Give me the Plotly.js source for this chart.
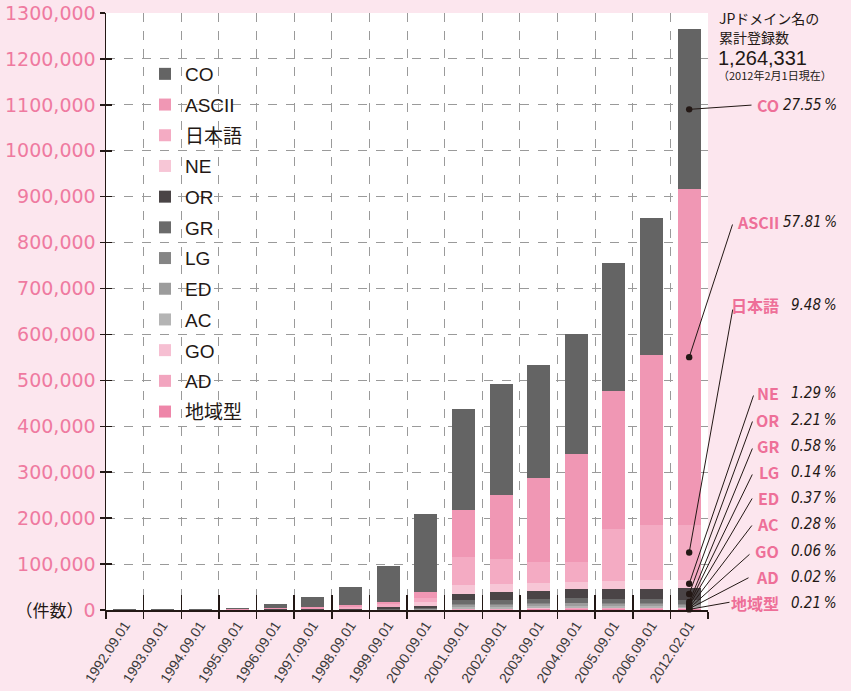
<!DOCTYPE html>
<html><head><meta charset="utf-8">
<script src="https://cdn.plot.ly/plotly-3.0.1.min.js"></script>
<style>html,body{margin:0;padding:0;background:#fce6ee;}</style>
</head><body>
<div id="chart" style="width:851px;height:691px;"></div>
<script>
const years = ['1992.09.01','1993.09.01','1994.09.01','1995.09.01','1996.09.01','1997.09.01','1998.09.01','1999.09.01','2000.09.01','2001.09.01','2002.09.01','2003.09.01','2004.09.01','2005.09.01','2006.09.01','2012.02.01'];

const CO     = [1200,1500,2000,3200,8500,23500,39500,78000,170300,219900,241600,246000,262000,278800,298400,348323];
const ASCII  = [0,0,0,800,3300,4300,5000,6000,13000,102400,139400,183000,235200,300500,370300,730910];
const JAPANESE = [0,0,0,0,0,0,4300,6000,8700,61000,54400,45700,43500,113200,119700,119858];
const NE     = [0,0,0,0,0,0,0,0,8700,19600,17400,17400,15300,17500,19600,16310];
const OR     = [200,300,400,300,700,1000,1300,4000,4300,13000,17400,17400,19700,21700,21700,27942];
const GR     = [0,0,0,0,0,0,0,1000,1500,8000,8000,8500,9700,8000,8000,7333];
const LG     = [0,0,0,0,0,0,0,0,500,2000,2000,2000,2000,2000,2000,1770];
const ED     = [0,0,0,0,0,0,0,0,1000,4500,4500,5000,5000,5000,5000,4678];
const AC     = [200,300,400,200,500,400,400,1000,1000,4500,4500,5000,5000,4500,4500,3540];
const GO     = [0,0,0,0,0,0,0,0,0,1500,1500,1200,1000,1000,1000,759];
const AD     = [0,0,0,0,0,0,0,0,0,300,300,300,300,300,300,253];
const CHIIKI = [0,0,0,0,0,0,0,0,0,1000,1000,2000,3000,3200,3200,2655];

const yTicks = [0,100000,200000,300000,400000,500000,600000,700000,800000,900000,1000000,1100000,1200000,1300000];
const totalLabel = '1,264,331';

// stacked bottom -> top
const series = [
  {name:'地域型', v:CHIIKI,  c:'#ee86a9'},
  {name:'AD',     v:AD,      c:'#f2a5bf'},
  {name:'GO',     v:GO,      c:'#f6bfd2'},
  {name:'AC',     v:AC,      c:'#b4b4b4'},
  {name:'ED',     v:ED,      c:'#9c9c9c'},
  {name:'LG',     v:LG,      c:'#858585'},
  {name:'GR',     v:GR,      c:'#6b6b6b'},
  {name:'OR',     v:OR,      c:'#4a4446'},
  {name:'NE',     v:NE,      c:'#f7c6d6'},
  {name:'日本語', v:JAPANESE,c:'#f4abc3'},
  {name:'ASCII',  v:ASCII,   c:'#f097b4'},
  {name:'CO',     v:CO,      c:'#646464'}
];

// label placement (pixels in page) for the right-hand callouts
const callout = {
  'CO':   {ly:105, tx:753, ty:105},
  'ASCII':{ly:222, tx:733, ty:223},
  '日本語':{ly:305, tx:733, ty:308},
  'NE':   {ly:393, tx:754, ty:394},
  'OR':   {ly:420, tx:753, ty:420},
  'GR':   {ly:446, tx:753, ty:447},
  'LG':   {ly:472, tx:753, ty:473},
  'ED':   {ly:498, tx:753, ty:497},
  'AC':   {ly:524, tx:753, ty:524},
  'GO':   {ly:551, tx:751, ty:553},
  'AD':   {ly:577, tx:750, ty:577},
  '地域型':{ly:603, tx:731, ty:602}
};

const L = 106, R = 708, T = 13, B = 610, YMAX = 1300000;
const px2px = x => (x - L) / (R - L);
const py2py = y => (B - y) / (B - T);
const px2cat = x => (x - L) / (R - L) * years.length - 0.5;
const py2val = y => (B - y) / (B - T) * YMAX;

const traces = series.map((s, i) => ({
  type:'bar', name:s.name, x:years, y:s.v,
  marker:{color:s.c, line:{width:0}},
  legendgroup:s.name, legendrank:series.length - i, hoverinfo:'x+y+name'
}));
traces.push({type:'scatter', mode:'markers', x:years, y:years.map(()=>null),
  xaxis:'x2', yaxis:'y2', showlegend:false, hoverinfo:'skip'});

const last = years.length - 1;
const total = series.reduce((a,s)=>a+s.v[last],0);
const annotations = [];
let cum = 0;
series.forEach(s => {
  const val = s.v[last];
  const mid = cum + val/2;
  cum += val;
  const c = callout[s.name];
  annotations.push({x:last, y:mid, xref:'x', yref:'y', axref:'x', ayref:'y',
    ax:px2cat(c.tx), ay:py2val(c.ty), text:'', showarrow:true,
    arrowhead:6, arrowsize:1.6, arrowwidth:1, arrowcolor:'#231815', standoff:0, startstandoff:0});
  annotations.push({x:px2px(781), y:py2py(c.ly), xref:'paper', yref:'paper', xanchor:'right', yanchor:'middle',
    text:'<b>'+s.name+'</b>', showarrow:false,
    font:{family:'"Noto Sans CJK JP", sans-serif', size:16, color:'#ee6f98'}});
  annotations.push({x:px2px(839), y:py2py(c.ly), xref:'paper', yref:'paper', xanchor:'right', yanchor:'middle',
    text:'<span style="font-stretch:condensed;font-style:italic">'+(val/total*100).toFixed(2)+'\u2009%</span>', showarrow:false,
    font:{family:'"DejaVu Sans", sans-serif', size:15, color:'#231815'}});
});
const topFont = '"Noto Sans CJK JP", sans-serif';
annotations.push({x:px2px(717), y:py2py(18), xref:'paper', yref:'paper', xanchor:'left', yanchor:'middle',
  text:'JPドメイン名の', showarrow:false, font:{family:topFont, size:14, color:'#231815'}});
annotations.push({x:px2px(717), y:py2py(37), xref:'paper', yref:'paper', xanchor:'left', yanchor:'middle',
  text:'累計登録数', showarrow:false, font:{family:topFont, size:14, color:'#231815'}});
annotations.push({x:px2px(716), y:py2py(58), xref:'paper', yref:'paper', xanchor:'left', yanchor:'middle',
  text:totalLabel, showarrow:false, font:{family:'"Liberation Sans", sans-serif', size:20, color:'#231815'}});
annotations.push({x:px2px(716), y:py2py(75), xref:'paper', yref:'paper', xanchor:'left', yanchor:'middle',
  text:'（2012年2月1日現在）', showarrow:false, font:{family:topFont, size:11, color:'#231815'}});

const yText = yTicks.map(v => v === 0
  ? '<span style="fill:#231815;font-family:\'Noto Sans CJK JP\';font-size:17px">（件数）</span>0'
  : (v/1000) + ',000');

const layout = {
  width:851, height:691,
  paper_bgcolor:'#fce6ee', plot_bgcolor:'#ffffff',
  margin:{l:L, r:851-R, t:T, b:691-B, pad:0},
  barmode:'stack', bargap:0.39,
  showlegend:true,
  legend:{x:px2px(145), y:py2py(55), xanchor:'left', yanchor:'top',
    traceorder:'grouped', tracegroupgap:3, bgcolor:'rgba(0,0,0,0)',
    font:{family:'"Liberation Sans", "Noto Sans CJK JP", sans-serif', size:19, color:'#231815'}},
  xaxis:{type:'category', categoryorder:'array', categoryarray:years, range:[-0.5, years.length-0.5],
    tickson:'boundaries', ticks:'outside', ticklen:7, tickwidth:1.5, tickcolor:'#231815',
    showgrid:true, gridcolor:'#9a9a9a', griddash:'dash', gridwidth:1,
    showline:true, linecolor:'#231815', linewidth:1.5, zeroline:false,
    tickangle:-57, tickfont:{family:'"Liberation Sans", sans-serif', size:14, color:'#3a3a3a'}},
  xaxis2:{type:'category', categoryorder:'array', categoryarray:years, range:[-0.5, years.length-0.5],
    overlaying:'x', anchor:'y', side:'bottom', tickson:'boundaries', ticks:'inside', ticklen:15,
    tickwidth:1.5, tickcolor:'#231815', showticklabels:false, showgrid:false, showline:false, zeroline:false},
  yaxis:{range:[0, YMAX], tickvals:yTicks, ticktext:yText, ticks:'outside', ticklen:5, tickwidth:1.5,
    tickcolor:'#231815', showgrid:true, gridcolor:'#9a9a9a', griddash:'dash', gridwidth:1,
    showline:true, linecolor:'#231815', linewidth:1.5, zeroline:false,
    tickfont:{family:'"DejaVu Sans", sans-serif', size:19, color:'#ef7aa0'}},
  yaxis2:{range:[0, YMAX], tickvals:yTicks, overlaying:'y', anchor:'x', side:'left', ticks:'inside', ticklen:6,
    tickwidth:1.5, tickcolor:'#231815', showticklabels:false, showgrid:false, showline:false, zeroline:false},
  annotations:annotations
};

Plotly.newPlot('chart', traces, layout, {displayModeBar:false, staticPlot:true});
</script>
</body></html>
